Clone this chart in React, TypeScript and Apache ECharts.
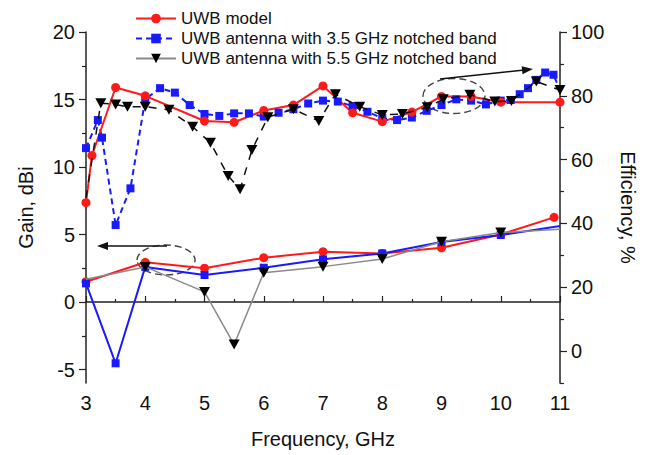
import React, { useEffect, useRef } from "react";
import * as echarts from "echarts";

// ---- axis ticks ----
const gainTicks = [-5, 0, 5, 10, 15, 20];
const gainMinorTicks = [-2.5, 2.5, 7.5, 12.5, 17.5];
const effTicks = [0, 20, 40, 60, 80, 100];
const effMinorTicks = [-10, 10, 30, 50, 70, 90];

// ---- series names ----
const names = [
  "UWB model",
  "UWB antenna with 3.5 GHz notched band",
  "UWB antenna with 5.5 GHz notched band",
];

// ---- gain (dBi), [frequency GHz, value] ----
const modelGain: [number, number][] = [
  [3, 1.5], [4, 2.94], [5, 2.5], [6, 3.28], [7, 3.73], [8, 3.6], [9, 4.02], [10, 5.0], [10.9, 6.27],
];
const notch35Gain: [number, number][] = [
  [3, 1.38], [3.5, -4.54], [4, 2.6], [5, 2.0], [6, 2.54], [7, 3.16], [8, 3.6], [9, 4.45], [10, 4.96], [11, 5.63],
];
const notch55Gain: [number, number][] = [
  [3, 1.68], [4, 2.6], [5, 0.75], [5.5, -3.15], [6, 2.17], [7, 2.62], [8, 3.19], [9, 4.47], [10, 5.14], [11, 5.38],
];

// ---- efficiency (%), [frequency GHz, value] ----
const modelEff: [number, number][] = [
  [3, 46.5], [3.1, 61.3], [3.5, 82.6], [4, 80.0], [5, 72.1], [5.5, 71.7], [6, 75.4], [6.5, 77.1],
  [7, 83.1], [7.5, 74.7], [8, 71.9], [8.5, 74.9], [9, 79.8], [9.5, 79.8], [10, 78.0], [11, 78.0],
];
const notch35Eff: [number, number][] = [
  [3, 63.6], [3.2, 72.4], [3.27, 66.9], [3.5, 39.5], [3.75, 51.0], [4, 78.9], [4.25, 82.4], [4.5, 81.0],
  [4.75, 77.1], [5, 74.3], [5.25, 73.7], [5.5, 74.5], [5.75, 74.5], [6, 73.5], [6.25, 74.7], [6.5, 75.8],
  [6.75, 77.6], [7, 78.5], [7.25, 78.2], [7.5, 76.8], [7.75, 75.0], [8, 73.0], [8.25, 72.4], [8.5, 73.2],
  [8.75, 75.3], [9, 77.1], [9.25, 78.9], [9.5, 78.5], [9.75, 77.3], [10, 78.5], [10.17, 78.7], [10.32, 80.5],
  [10.46, 82.4], [10.6, 85.0], [10.75, 87.3], [10.89, 86.6], [11, 81.8],
];
const notch55Eff: [number, number][] = [
  [3, 48.0], [3.25, 77.7], [3.5, 77.3], [3.7, 76.6], [4, 76.6], [4.4, 75.6], [4.8, 70.3], [5.1, 65.3],
  [5.4, 54.9], [5.6, 50.7], [5.8, 63.0], [6.07, 73.3], [6.5, 75.8], [6.93, 72.1], [7.21, 80.5], [7.62, 76.6],
  [8, 74.0], [8.34, 74.3], [8.76, 76.4], [9.03, 78.9], [9.48, 80.3], [9.9, 78.2], [10.18, 78.4], [10.6, 84.5],
  [11, 81.8],
];

// points drawn without a marker (line end points)
const noMarkerNotch35Gain = [11];
const noMarkerNotch55Gain = [3, 11];
const noMarkerNotch35Eff = [11];
const noMarkerNotch55Eff = [3];

const FONT = "'Liberation Sans', Arial, sans-serif";
const TRI = "path://M0,0 L10,0 L5,9 Z";

function toData(pts: [number, number][], hidden: number[] = []) {
  return pts.map((p) =>
    hidden.indexOf(p[0]) >= 0 ? { value: p, symbol: "none" } : { value: p }
  );
}

function arrow(x1: number, y1: number, x2: number, y2: number) {
  const dx = x2 - x1;
  const dy = y2 - y1;
  const len = Math.sqrt(dx * dx + dy * dy);
  const ux = dx / len;
  const uy = dy / len;
  const hl = 11;
  const hw = 4;
  const bx = x2 - ux * hl;
  const by = y2 - uy * hl;
  return [
    {
      type: "line",
      shape: { x1, y1, x2: bx, y2: by },
      style: { stroke: "#111", lineWidth: 1.6 },
      silent: true,
    },
    {
      type: "polygon",
      shape: {
        points: [
          [x2, y2],
          [bx - uy * hw, by + ux * hw],
          [bx + uy * hw, by - ux * hw],
        ],
      },
      style: { fill: "#111" },
      silent: true,
    },
  ];
}

export default function App() {
  const ref = useRef<HTMLDivElement>(null);
  useEffect(() => {
    if (!ref.current) return;
    document.body.style.margin = "0";
    const chart = echarts.init(ref.current, null, { renderer: "svg" });
    const axisLine = { show: true, lineStyle: { color: "#222", width: 1.5 } };
    const labelStyle = { color: "#111", fontSize: 20, fontFamily: FONT };
    const nameStyle = { color: "#111", fontSize: 20, fontFamily: FONT };
    const option: any = {
      animation: false,
      backgroundColor: "#fff",
      grid: { left: 86, right: 94, top: 32, bottom: 72, containLabel: false, outerBoundsMode: "none" },
      legend: {
        orient: "vertical",
        left: 130,
        top: 5,
        itemWidth: 40,
        itemHeight: 12,
        itemGap: 3,
        data: names,
        textStyle: { color: "#111", fontSize: 17, fontFamily: FONT },
        selectedMode: false,
      },
      xAxis: {
        type: "value",
        min: 3,
        max: 11,
        interval: 1,
        name: "Frequency, GHz",
        nameLocation: "middle",
        nameGap: 46,
        nameTextStyle: nameStyle,
        axisLine,
        axisTick: { show: true, inside: true, length: 6, lineStyle: { color: "#222", width: 1.2 } },
        minorTick: { show: true, splitNumber: 2, length: 3, lineStyle: { color: "#222", width: 1.2 } },
        axisLabel: { ...labelStyle, margin: 10 },
        splitLine: { show: false },
      },
      yAxis: [
        {
          type: "value",
          position: "left",
          min: -6,
          max: 20,
          name: "Gain, dBi",
          nameLocation: "middle",
          nameGap: 50,
          nameTextStyle: nameStyle,
          axisLine,
          axisTick: { show: true, customValues: gainTicks, length: 7, lineStyle: { color: "#222", width: 1.2 } },
          axisLabel: { ...labelStyle, margin: 11, customValues: gainTicks },
          splitLine: { show: false },
        },
        {
          type: "value",
          position: "right",
          min: -10,
          max: 100,
          name: "Efficiency, %",
          nameLocation: "middle",
          nameRotate: -90,
          nameGap: 58,
          nameTextStyle: nameStyle,
          axisLine,
          axisTick: { show: true, customValues: effTicks, length: 7, lineStyle: { color: "#222", width: 1.2 } },
          axisLabel: { ...labelStyle, margin: 11, customValues: effTicks },
          splitLine: { show: false },
        },
        {
          type: "value",
          position: "left",
          min: -6,
          max: 20,
          axisLine: { show: false },
          axisTick: { show: true, customValues: gainMinorTicks, length: 4, lineStyle: { color: "#222", width: 1.2 } },
          axisLabel: { show: false, customValues: gainMinorTicks },
          splitLine: { show: false },
        },
        {
          type: "value",
          position: "right",
          min: -10,
          max: 100,
          axisLine: { show: false },
          axisTick: { show: true, customValues: effMinorTicks, length: 4, lineStyle: { color: "#222", width: 1.2 } },
          axisLabel: { show: false, customValues: effMinorTicks },
          splitLine: { show: false },
        },
      ],
      series: [
        {
          name: names[0],
          type: "line",
          yAxisIndex: 0,
          data: toData(modelGain),
          symbol: "circle",
          symbolSize: 9,
          lineStyle: { color: "#ff1a1a", width: 2 },
          itemStyle: { color: "#ff1a1a" },
          z: 3,
        },
        {
          name: names[1],
          type: "line",
          yAxisIndex: 1,
          data: toData(notch35Eff, noMarkerNotch35Eff),
          symbol: "rect",
          symbolSize: 8,
          lineStyle: { color: "#1a1aff", width: 2, type: [6, 4] },
          itemStyle: { color: "#1a1aff" },
          z: 3,
        },
        {
          name: names[2],
          type: "line",
          yAxisIndex: 0,
          data: toData(notch55Gain, noMarkerNotch55Gain),
          symbol: TRI,
          symbolSize: [11, 10],
          lineStyle: { color: "#8a8a8a", width: 1.5 },
          itemStyle: { color: "#000" },
          z: 4,
        },
        {
          name: names[1],
          type: "line",
          yAxisIndex: 0,
          data: toData(notch35Gain, noMarkerNotch35Gain),
          symbol: "rect",
          symbolSize: 8,
          lineStyle: { color: "#1a1aff", width: 2 },
          itemStyle: { color: "#1a1aff" },
          z: 3,
        },
        {
          name: names[0],
          type: "line",
          yAxisIndex: 1,
          data: toData(modelEff),
          symbol: "circle",
          symbolSize: 9,
          lineStyle: { color: "#ff1a1a", width: 2 },
          itemStyle: { color: "#ff1a1a" },
          z: 3,
        },
        {
          name: names[2],
          type: "line",
          yAxisIndex: 1,
          data: toData(notch55Eff, noMarkerNotch55Eff),
          symbol: TRI,
          symbolSize: [11, 10],
          lineStyle: { color: "#111", width: 1.5, type: [8, 8] },
          itemStyle: { color: "#000" },
          z: 4,
        },
      ],
      graphic: [
        {
          type: "ellipse",
          shape: { cx: 454, cy: 96, rx: 31, ry: 17.5 },
          style: { fill: "none", stroke: "#444", lineWidth: 1.4, lineDash: [7, 4] },
          silent: true,
        },
        {
          type: "ellipse",
          shape: { cx: 166, cy: 260, rx: 29, ry: 15 },
          style: { fill: "none", stroke: "#444", lineWidth: 1.4, lineDash: [7, 4] },
          silent: true,
        },
        ...arrow(440, 79, 533, 69),
        ...arrow(167, 246, 97, 246),
      ],
    };
    chart.setOption(option);
    return () => chart.dispose();
  }, []);
  return <div ref={ref} style={{ width: 654, height: 455 }} />;
}
